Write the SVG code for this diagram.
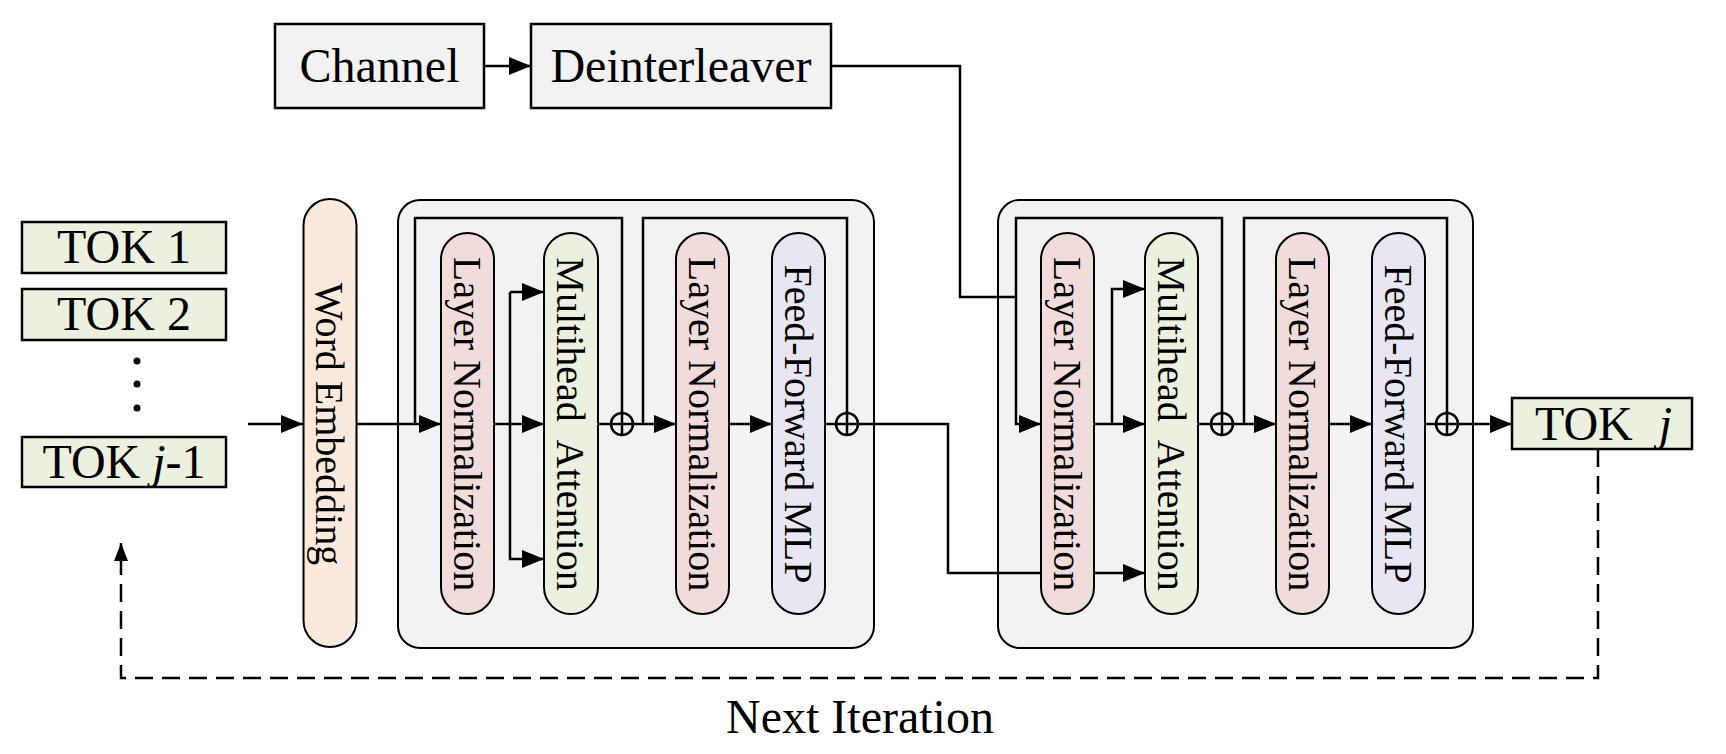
<svg xmlns="http://www.w3.org/2000/svg" width="1726" height="754" viewBox="0 0 1726 754">
<style>
.box{stroke:#000;stroke-width:2.5}
.grey{fill:#f2f2f2}
.tok{fill:#ebf1de}
.blk{fill:#f2f2f2;stroke:#000;stroke-width:2}
.pill{stroke:#000;stroke-width:2}
.ln{fill:#f2dcdb}
.mha{fill:#ebf1de}
.ff{fill:#e8e6f0}
.we{fill:#fbeadb}
.t{font-family:"Liberation Serif","Times New Roman",serif;fill:#000}
.h{font-size:48px;text-anchor:middle}
.v{font-size:40px;text-anchor:middle}
.c{fill:none;stroke:#000;stroke-width:2.5}
.a{marker-end:url(#arr)}
.sum{fill:none;stroke:#000;stroke-width:2.5}
</style>
<defs>
<marker id="arr" markerUnits="userSpaceOnUse" markerWidth="24" markerHeight="20" refX="22" refY="9" orient="auto">
<path d="M0,0 L22,9 L0,18 z" fill="#000"/>
</marker>
<marker id="arrd" markerUnits="userSpaceOnUse" markerWidth="20" markerHeight="16" refX="18" refY="7" orient="auto">
<path d="M0,0 L18,7 L0,14 z" fill="#000"/>
</marker>
</defs>

<g id="block1"><rect class="blk" x="398" y="200" width="476" height="448" rx="22"/></g>
<g id="block2"><rect class="blk" x="998" y="200" width="475" height="448" rx="22"/></g>

<g id="connectors">
<line class="c a" x1="484" y1="66" x2="531" y2="66"/>
<path class="c" d="M831,66 H960 V297 H1016"/>
<line class="c a" x1="248" y1="424" x2="303" y2="424"/>
<line class="c a" x1="357" y1="424" x2="441" y2="424"/>
<path class="c" d="M415,424 V218 H622 V413"/>
<line class="c a" x1="494" y1="424" x2="544" y2="424"/>
<path class="c" d="M510,424 V292"/>
<path class="c a" d="M510,292 H544"/>
<path class="c a" d="M510,424 V559 H544"/>
<line class="c" x1="598" y1="424" x2="611" y2="424"/>
<line class="c a" x1="633" y1="424" x2="676" y2="424"/>
<path class="c" d="M643,424 V218 H847 V413"/>
<line class="c a" x1="729" y1="424" x2="772" y2="424"/>
<line class="c" x1="825" y1="424" x2="836" y2="424"/>
<path class="c a" d="M858,424 H948 V573 H1145"/>
<path class="c a" d="M1222,413 V218 H1016 V424 H1041"/>
<line class="c a" x1="1094" y1="424" x2="1145" y2="424"/>
<path class="c a" d="M1112,424 V289 H1145"/>
<line class="c" x1="1198" y1="424" x2="1211" y2="424"/>
<line class="c a" x1="1233" y1="424" x2="1276" y2="424"/>
<path class="c" d="M1244,424 V218 H1447 V413"/>
<line class="c a" x1="1329" y1="424" x2="1372" y2="424"/>
<line class="c" x1="1425" y1="424" x2="1436" y2="424"/>
<line class="c a" x1="1458" y1="424" x2="1512" y2="424"/>
<path class="c" d="M1598,449 V678 H121 V543" stroke-dasharray="18 9" marker-end="url(#arrd)"/>
<g id="sums">
<circle class="sum" cx="622" cy="424" r="11"/><path class="sum" d="M611,424 H633 M622,413 V435"/>
<circle class="sum" cx="847" cy="424" r="11"/><path class="sum" d="M836,424 H858 M847,413 V435"/>
<circle class="sum" cx="1222" cy="424" r="11"/><path class="sum" d="M1211,424 H1233 M1222,413 V435"/>
<circle class="sum" cx="1447" cy="424" r="11"/><path class="sum" d="M1436,424 H1458 M1447,413 V435"/>
</g>
</g>

<g id="channel"><rect class="box grey" x="275" y="24" width="209" height="84"/><text class="t h" x="379.5" y="82">Channel</text></g>
<g id="deinterleaver"><rect class="box grey" x="531" y="24" width="300" height="84"/><text class="t h" x="681" y="82">Deinterleaver</text></g>

<g id="tok1"><rect class="box tok" x="22" y="222" width="204" height="51"/><text class="t h" x="124" y="263">TOK 1</text></g>
<g id="tok2"><rect class="box tok" x="22" y="289" width="204" height="51"/><text class="t h" x="124" y="330">TOK 2</text></g>
<g id="dots"><circle cx="137" cy="361" r="3.5"/><circle cx="137" cy="384" r="3.5"/><circle cx="137" cy="408" r="3.5"/></g>
<g id="tokj1"><rect class="box tok" x="22" y="437" width="204" height="50"/><text class="t h" x="124" y="478">TOK <tspan font-style="italic">j</tspan>-1</text></g>
<g id="tokj"><rect class="box tok" x="1512" y="398" width="180" height="51"/><text class="t" font-size="48" x="1535" y="440">TOK<tspan font-style="italic" dx="26">j</tspan></text></g>

<g id="wordemb"><rect class="pill we" x="303.5" y="199" width="53" height="448" rx="26.5"/><text class="t v" transform="translate(330,424) rotate(90)" x="0" y="14">Word Embedding</text></g>

<g id="b1ln1"><rect class="pill ln" x="441" y="233" width="53" height="381" rx="26.5"/><text class="t v" transform="translate(467.5,424) rotate(90)" x="0" y="14">Layer Normalization</text></g>
<g id="b1mha"><rect class="pill mha" x="544" y="233" width="54" height="381" rx="27"/><text class="t v" transform="translate(571,424) rotate(90)" x="0" y="14" xml:space="preserve">Multihead  Attention</text></g>
<g id="b1ln2"><rect class="pill ln" x="676" y="233" width="53" height="381" rx="26.5"/><text class="t v" transform="translate(702.5,424) rotate(90)" x="0" y="14">Layer Normalization</text></g>
<g id="b1ff"><rect class="pill ff" x="772" y="233" width="53" height="381" rx="26.5"/><text class="t v" transform="translate(798.5,424) rotate(90)" x="0" y="14">Feed-Forward MLP</text></g>

<g id="b2ln1"><rect class="pill ln" x="1041" y="233" width="53" height="381" rx="26.5"/><text class="t v" transform="translate(1067.5,424) rotate(90)" x="0" y="14">Layer Normalization</text></g>
<g id="b2mha"><rect class="pill mha" x="1145" y="233" width="53" height="381" rx="26.5"/><text class="t v" transform="translate(1171.5,424) rotate(90)" x="0" y="14" xml:space="preserve">Multihead  Attention</text></g>
<g id="b2ln2"><rect class="pill ln" x="1276" y="233" width="53" height="381" rx="26.5"/><text class="t v" transform="translate(1302.5,424) rotate(90)" x="0" y="14">Layer Normalization</text></g>
<g id="b2ff"><rect class="pill ff" x="1372" y="233" width="53" height="381" rx="26.5"/><text class="t v" transform="translate(1398.5,424) rotate(90)" x="0" y="14">Feed-Forward MLP</text></g>

<g id="nextiter"><text class="t h" x="860" y="733">Next Iteration</text></g>
</svg>
